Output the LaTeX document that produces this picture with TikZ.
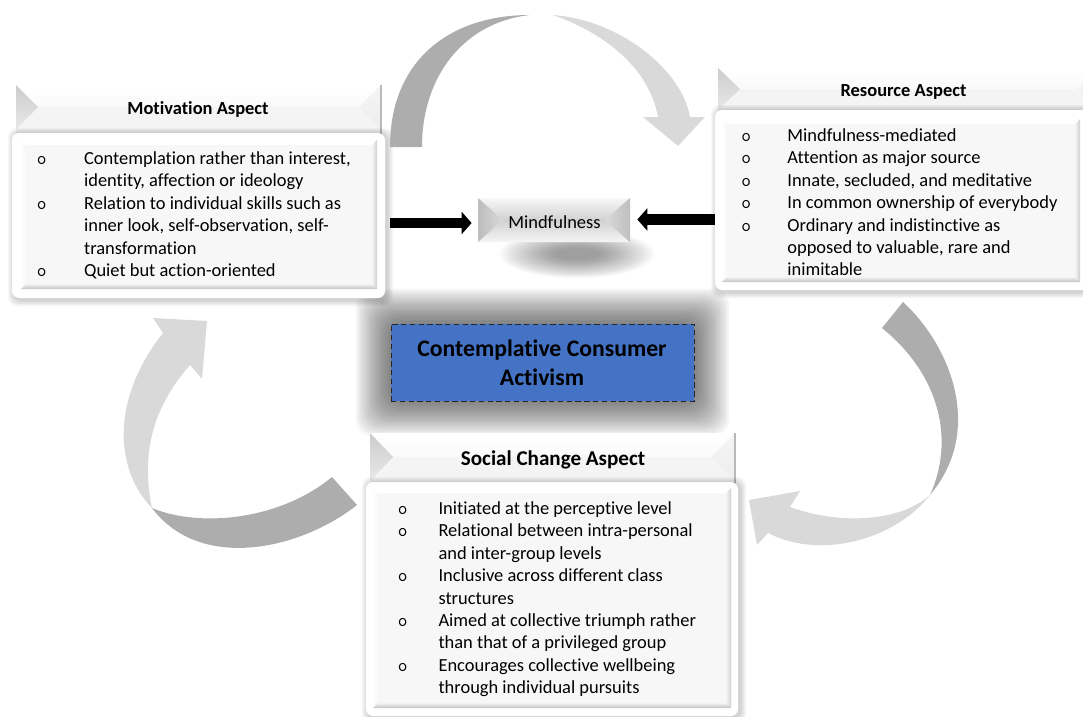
\documentclass[tikz,border=0pt]{standalone}
\usepackage{fontspec}
\setmainfont{Carlito}[Ligatures={NoCommon,NoRequired,NoContextual}]
\usetikzlibrary{arrows.meta,calc,fit}

\definecolor{arcdark}{HTML}{ADADAD}
\definecolor{arclight}{HTML}{D9D9D9}
\definecolor{coreblue}{HTML}{4472C4}

% bullet cell of a fixed width
\newcommand\bu[1]{\makebox[#1][l]{\ttfamily o}}

% bevelled title tab: x1 y1 x2 y2 ymid depth
\newcommand\headtab[6]{%
  \fill[gray!9] (#1,#2) rectangle (#3,#4);
  \shade[top color=white, bottom color=gray!4] (#1,#2) -- (#3,#2) -- (#3-#6,#5) -- (#1+#6,#5) -- cycle;
  \shade[top color=gray!40, bottom color=gray!18] (#1,#2) -- (#1+#6,#5) -- (#1,2*#5-#2) -- cycle;
  \shade[top color=gray!8, bottom color=gray!14] (#3,#2) -- (#3-#6,#5) -- (#3,2*#5-#2) -- cycle;
  \draw[gray!55, line width=0.8pt] (#3,#2) -- (#3,#4);
}

% white card with a bevelled grey panel: outer x1 y1 x2 y2, inner x1 y1 x2 y2
\newcommand\bodypanel[8]{%
  \foreach \s in {1,...,6}{\fill[black, opacity=0.03, rounded corners=5pt] (#1+2-\s,#2+1-\s) rectangle (#3+2+\s,#4+2+\s);}
  \fill[white, rounded corners=4pt] (#1,#2) rectangle (#3,#4);
  \fill[gray!6] (#5,#6) rectangle (#7,#8);
  \fill[white] (#5,#6) -- (#7,#6) -- (#7-5,#6+5) -- (#5+5,#6+5) -- cycle;
  \shade[left color=white, right color=gray!6] (#5,#6) -- (#5+5,#6+5) -- (#5+5,#8-5) -- (#5,#8) -- cycle;
  \shade[left color=gray!8, right color=gray!38] (#7,#6) -- (#7,#8) -- (#7-5,#8-5) -- (#7-5,#6+5) -- cycle;
  \shade[top color=gray!10, bottom color=gray!48] (#5,#8) -- (#7,#8) -- (#7-5,#8-5) -- (#5+5,#8-5) -- cycle;
}

\begin{document}
\begin{tikzpicture}[x=0.02cm, y=-0.02cm,
  listtext/.style={inner sep=0pt, anchor=base west, font=\fontsize{10.5}{12.75}\selectfont},
  headtext/.style={inner sep=0pt, anchor=base, font=\bfseries\fontsize{10.5}{12.75}\selectfont},
  frame/.style={inner sep=0pt, draw=none},
  blockarrow/.style={line width=6pt, -{Triangle[length=5.7pt, width=12.5pt]}},
]
\useasboundingbox (0,0) rectangle (1083,717);

% soft glow round the core block
\foreach \s in {1,...,16}{\fill[black, opacity=0.04, rounded corners=10pt] (391-2.2*\s,324-2.2*\s) rectangle (694+2.2*\s,401+2.2*\s);}

% blurred shadow under the Mindfulness tile
\foreach \s in {1,...,24}{\fill[black, opacity=0.018] (577,254) ellipse [x radius={(80-2.4*\s)*0.02cm}, y radius={(25-0.8*\s)*0.02cm}];}

% ---------- Motivation Aspect ----------
\headtab{16}{85}{381}{135}{107}{22}
\bodypanel{12}{133}{385}{298}{21}{140}{377}{289}
\node[frame, fit={(12,133) (385,298)}] (mot) {};
\node[headtext] (mothead) at (198,114.5) {Motivation Aspect};
\node[listtext] (motlist) at (36.5,164.5) {\begin{tabular}[t]{@{}l@{}l@{}}
\bu{26.9pt} & Contemplation rather than interest,\\
 & identity, affection or ideology\\
\bu{26.9pt} & Relation to individual skills such as\\
 & inner look, self-observation, self-\\
 & transformation\\
\bu{26.9pt} & Quiet but action-oriented
\end{tabular}};

% ---------- Resource Aspect ----------
\headtab{718}{68}{1100}{116}{89}{22}
\bodypanel{715}{110}{1095}{290}{722}{119}{1080}{282}
\node[frame, fit={(715,110) (1095,290)}] (res) {};
\node[headtext] (reshead) at (903.5,96) {Resource Aspect};
\node[listtext] (reslist) at (741,141.5) {\begin{tabular}[t]{@{}l@{}l@{}}
\bu{26.2pt} & Mindfulness-mediated\\
\bu{26.2pt} & Attention as major source\\
\bu{26.2pt} & Innate, secluded, and meditative\\
\bu{26.2pt} & In common ownership of everybody\\
\bu{26.2pt} & Ordinary and indistinctive as\\
 & opposed to valuable, rare and\\
 & inimitable
\end{tabular}};

% ---------- Social Change Aspect ----------
\headtab{370}{433}{735}{484}{457}{23}
\bodypanel{366}{482}{738}{716}{373}{488}{731}{708}
\node[frame, fit={(366,482) (738,716)}] (soc) {};
\node[headtext, font=\bfseries\fontsize{12}{14}\selectfont] (sochead) at (553,465.5) {Social Change Aspect};
\node[listtext] (soclist) at (397.6,514.5) {\begin{tabular}[t]{@{}l@{}l@{}}
\bu{23.1pt} & Initiated at the perceptive level\\
\bu{23.1pt} & Relational between intra-personal\\
 & and inter-group levels\\
\bu{23.1pt} & Inclusive across different class\\
 & structures\\
\bu{23.1pt} & Aimed at collective triumph rather\\
 & than that of a privileged group\\
\bu{23.1pt} & Encourages collective wellbeing\\
 & through individual pursuits
\end{tabular}};

% ---------- core block ----------
\node[frame, fit={(391,324) (694,401)}, fill=coreblue, draw=black!85, densely dashed, line width=0.5pt] (core) {};
\node[inner sep=0pt, anchor=base, font=\bfseries\fontsize{13.5}{16.6}\selectfont] (coretext) at (542,356.7)
  {\begin{tabular}[t]{@{}c@{}}Contemplative Consumer\\Activism\end{tabular}};

% ---------- Mindfulness tile ----------
\shade[top color=gray!6, bottom color=gray!36] (478,198) -- (630,198) -- (605,220) -- (503,220) -- cycle;
\shade[top color=gray!36, bottom color=gray!8] (478,242) -- (630,242) -- (605,220) -- (503,220) -- cycle;
\shade[left color=gray!52, right color=gray!30] (478,198) -- (503,220) -- (478,242) -- cycle;
\shade[left color=gray!30, right color=gray!50] (630,198) -- (605,220) -- (630,242) -- cycle;
\node[frame, fit={(478,198) (630,242)}] (mind) {};
\node[inner sep=0pt, anchor=base, font=\fontsize{10.5}{12.75}\selectfont] (mindtext) at (554.5,228.5) {Mindfulness};

% ---------- straight arrows into Mindfulness ----------
\draw[blockarrow] ($(mot.east |- mind.west)+(5,3)$) -- ($(mind.west)+(-6,3)$);
\draw[blockarrow] ($(res.west |- mind.east)+(0,-0.5)$) -- ($(mind.east)+(7,-0.5)$);

% ---------- curved cycle arrows ----------
% Motivation -> Resource (over the top)
\fill[arcdark] (390,147) .. controls (390,60) and (450,15) .. (530,15) .. controls (465,22) and (422,75) .. (422,147) -- cycle;
\fill[arclight] (553,15) .. controls (620,20) and (682,70) .. (690,117) -- (705,117) -- (678,146) -- (643,117) -- (658,117) .. controls (650,72) and (610,35) .. (553,15) -- cycle;
% Resource -> Social Change (right side)
\fill[arcdark] (882,328) -- (903,302) .. controls (950,345) and (985,430) .. (930,495) .. controls (955,440) and (940,375) .. (882,328) -- cycle;
\fill[arclight] (930,495) .. controls (895,540) and (820,560) .. (768,533) -- (757,545) -- (749,500) -- (800,491) -- (790,507) .. controls (840,525) and (900,522) .. (930,495) -- cycle;
% Social Change -> Motivation (left side)
\fill[arcdark] (332,477) -- (357,505) .. controls (300,550) and (200,572) .. (152,508) .. controls (200,528) and (280,520) .. (332,477) -- cycle;
\fill[arclight] (152,508) .. controls (115,470) and (110,400) .. (163,333) -- (153,318) -- (207,321) -- (202,379) -- (190,365) .. controls (155,405) and (140,450) .. (152,508) -- cycle;

\end{tikzpicture}
\end{document}
